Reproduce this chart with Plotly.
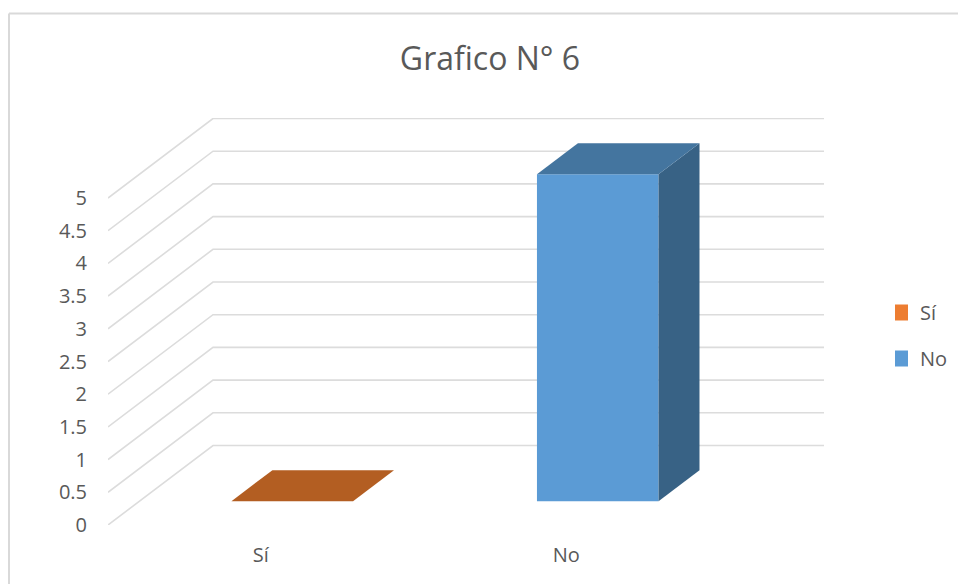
import plotly.graph_objects as go

# Chart data
categories = ["Sí", "No"]
values = [0, 5]
value_ticks = [0, 0.5, 1, 1.5, 2, 2.5, 3, 3.5, 4, 4.5, 5]
value_tick_labels = ["0", "0.5", "1", "1.5", "2", "2.5", "3", "3.5", "4", "4.5", "5"]
title_text = "Grafico N° 6"

# Face colours per series: front, top, side, legend swatch
front_colors = ["#ed7d31", "#5b9bd5"]
top_colors = ["#b35e22", "#44759f"]
side_colors = ["#8f4b1b", "#386285"]
legend_colors = ["#ed7d31", "#5b9bd5"]
GRID_COLOR = "#dcdcdc"
TEXT_COLOR = "#595959"
FONT = "Open Sans"

# Figure and plot geometry (pixels)
W, H = 958, 584
M_L, M_R, M_T, M_B = 108, 134, 118, 59
PX_PER_CATEGORY = 305.5
PX_PER_UNIT = 65.4
FLOOR_DX_PX, FLOOR_DY_PX = 105, 79.5

# Oblique projection: one unit of depth shifts right and up by these data amounts
DEPTH_X = FLOOR_DX_PX / PX_PER_CATEGORY
DEPTH_Y = FLOOR_DY_PX / PX_PER_UNIT
BAR_WIDTH = 0.398
DEPTH_FRONT, DEPTH_BACK = 0.30, 0.69


def project(cat, value, depth):
    return cat + depth * DEPTH_X, value + depth * DEPTH_Y


def face(points, color):
    xy = [project(*p) for p in points]
    xs = [p[0] for p in xy] + [xy[0][0]]
    ys = [p[1] for p in xy] + [xy[0][1]]
    return go.Scatter(x=xs, y=ys, mode="lines", fill="toself", fillcolor=color,
                      line=dict(width=0, color=color), hoverinfo="skip",
                      showlegend=False, cliponaxis=False)


fig = go.Figure()

# Gridlines run along the side wall, then across the back wall
n_categories = len(categories)
for v in value_ticks:
    gx, gy = zip(*[project(0, v, 0), project(0, v, 1), project(n_categories, v, 1)])
    fig.add_trace(go.Scatter(x=gx, y=gy, mode="lines", hoverinfo="skip", showlegend=False,
                             line=dict(color=GRID_COLOR, width=1.6), cliponaxis=False))

# Each column is a box made of three visible faces
for i, (name, v) in enumerate(zip(categories, values)):
    left = i + 0.5 - BAR_WIDTH / 2
    right = i + 0.5 + BAR_WIDTH / 2
    fig.add_trace(face([(left, 0, DEPTH_FRONT), (right, 0, DEPTH_FRONT),
                        (right, v, DEPTH_FRONT), (left, v, DEPTH_FRONT)], front_colors[i]))
    fig.add_trace(face([(right, 0, DEPTH_FRONT), (right, 0, DEPTH_BACK),
                        (right, v, DEPTH_BACK), (right, v, DEPTH_FRONT)], side_colors[i]))
    fig.add_trace(face([(left, v, DEPTH_FRONT), (right, v, DEPTH_FRONT),
                        (right, v, DEPTH_BACK), (left, v, DEPTH_BACK)], top_colors[i]))

# Legend entries
for name, color in zip(categories, legend_colors):
    fig.add_trace(go.Scatter(x=[None], y=[None], mode="markers", name=name, legendgroup=name,
                             marker=dict(symbol="square", size=16, color=color)))

plot_w = W - M_L - M_R
plot_h = H - M_T - M_B

fig.update_layout(
    width=W, height=H,
    margin=dict(l=M_L, r=M_R, t=M_T, b=M_B, autoexpand=False),
    paper_bgcolor="white", plot_bgcolor="white",
    font=dict(family=FONT, size=20, color=TEXT_COLOR),
    title=dict(text=title_text, x=490 / W, xanchor="center", y=1 - 59 / H, yanchor="middle",
               font=dict(family=FONT, size=32, color=TEXT_COLOR)),
    xaxis=dict(range=[0, plot_w / PX_PER_CATEGORY], tickmode="array",
               tickvals=[i + 0.5 for i in range(n_categories)], ticktext=categories,
               showgrid=False, zeroline=False, showline=False, ticks="",
               ticklabelstandoff=16, fixedrange=True),
    yaxis=dict(range=[0, plot_h / PX_PER_UNIT], tickmode="array",
               tickvals=value_ticks, ticktext=value_tick_labels,
               showgrid=False, zeroline=False, showline=False, ticks="",
               ticklabelstandoff=20, fixedrange=True),
    legend=dict(x=(895 - M_L) / plot_w, xanchor="left", y=(H - M_B - 293) / plot_h, yanchor="top",
                bgcolor="rgba(0,0,0,0)", tracegroupgap=17, itemclick=False, itemdoubleclick=False,
                indentation=-15,
                font=dict(family=FONT, size=20, color=TEXT_COLOR)),
    shapes=[
        # Chart frame: top and left edges
        dict(type="line", xref="paper", yref="paper", layer="above",
             x0=(9 - M_L) / plot_w, x1=(W - M_L) / plot_w,
             y0=(H - M_B - 13.5) / plot_h, y1=(H - M_B - 13.5) / plot_h,
             line=dict(color="#d9d9d9", width=2)),
        dict(type="line", xref="paper", yref="paper", layer="above",
             x0=(9 - M_L) / plot_w, x1=(9 - M_L) / plot_w,
             y0=(H - M_B - 13.5) / plot_h, y1=-M_B / plot_h,
             line=dict(color="#d9d9d9", width=2)),
    ],
)

fig.write_html("out.html", config={"displayModeBar": False})
